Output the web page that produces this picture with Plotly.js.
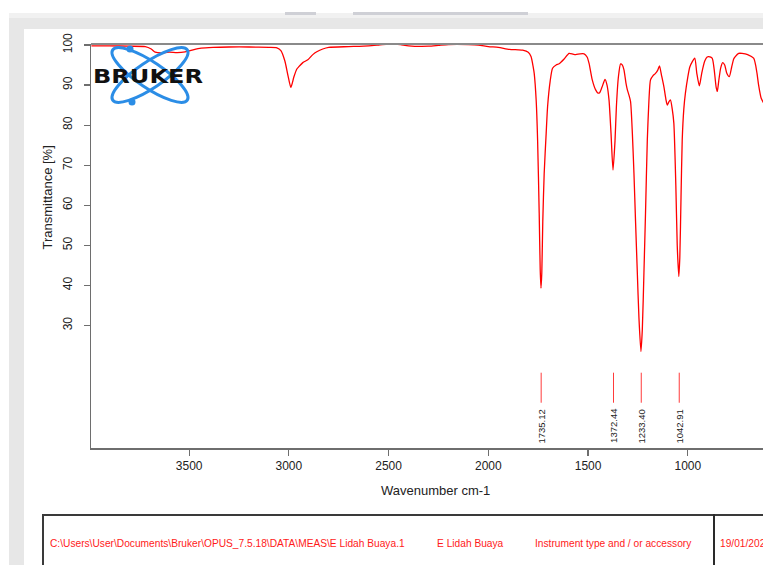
<!DOCTYPE html>
<html>
<head>
<meta charset="utf-8">
<script src="https://cdn.plot.ly/plotly-3.0.1.min.js"></script>
<style>
  html, body { margin:0; padding:0; width:763px; height:565px; overflow:hidden; background:#ffffff; position:relative; font-family:"Liberation Sans", Arial, sans-serif; }
  .abs { position:absolute; }
  #chart { position:absolute; left:0; top:0; width:763px; height:565px; z-index:5; }
  .foot { position:absolute; top:538px; font-size:10.2px; color:#ff1a1a; white-space:nowrap; z-index:6; line-height:12px; }
</style>
</head>
<body>
<!-- page frame -->
<div class="abs" style="left:9px; top:13px; width:754px; height:552px; background:#e7e7e7;"></div>
<div class="abs" style="left:9px; top:13px; width:754px; height:5px; background:#f1f1f1;"></div>
<div class="abs" style="left:285px; top:12px; width:31px; height:3px; background:#cfd0d6;"></div>
<div class="abs" style="left:353px; top:12px; width:175px; height:3px; background:#cfd0d6;"></div>
<div class="abs" style="left:24px; top:29px; width:739px; height:536px; background:#ffffff;"></div>
<!-- footer box -->
<div class="abs" style="left:42px; top:514px; width:721px; height:60px; border-top:2px solid #3a3a3a; border-left:2px solid #3a3a3a; box-sizing:border-box; z-index:6;"></div>
<div class="abs" style="left:713px; top:514px; width:2px; height:60px; background:#2a2a2a; z-index:6;"></div>
<div class="foot" style="left:50px;">C:\Users\User\Documents\Bruker\OPUS_7.5.18\DATA\MEAS\E Lidah Buaya.1</div>
<div class="foot" style="left:437px;">E Lidah Buaya</div>
<div class="foot" style="left:535px;">Instrument type and / or accessory</div>
<div class="foot" style="left:720px;">19/01/2023</div>

<div id="chart"></div>

<!-- Bruker logo -->
<svg class="abs" style="left:0; top:0; z-index:7; pointer-events:none;" width="763" height="565">
  <g fill="none" stroke="#2b8de6" stroke-width="3">
    <ellipse cx="150" cy="75" rx="45" ry="13" transform="rotate(34 150 75)"/>
    <ellipse cx="150" cy="75" rx="45" ry="13" transform="rotate(-34 150 75)"/>
  </g>
  <circle cx="130" cy="49" r="3.5" fill="#2b8de6"/>
  <circle cx="132" cy="102" r="3.5" fill="#2b8de6"/>
  <text x="93" y="83" font-family="DejaVu Sans" font-weight="bold" font-size="19" fill="#111" textLength="110" lengthAdjust="spacingAndGlyphs">BRUKER</text>
</svg>

<script>
// Spectrum (wavenumber cm-1, transmittance %)
const wavenumber = [3990,3900,3800,3720,3690,3670,3640,3600,3560,3520,3480,3440,3380,3300,3200,3100,3060,3040,3020,3005,2990,2975,2960,2950,2930,2905,2880,2860,2830,2800,2700,2600,2550,2480,2440,2400,2300,2250,2200,2100,2050,2000,1950,1895,1850,1828,1800,1786,1775,1770,1760,1753,1745,1740,1736,1732,1727,1720,1710,1703,1690,1678,1660,1645,1620,1595,1575,1562,1540,1520,1505,1495,1480,1462,1450,1442,1430,1415,1405,1395,1385,1375,1365,1358,1348,1337,1328,1320,1310,1303,1295,1287,1278,1270,1262,1253,1245,1235,1228,1220,1212,1203,1195,1187,1175,1162,1150,1142,1132,1120,1110,1103,1095,1087,1078,1070,1060,1053,1045,1040,1034,1028,1020,1012,1000,990,978,965,955,942,930,915,903,895,878,868,858,852,845,835,825,815,805,792,780,770,762,745,728,700,670,660,653,645,632,620];
const transmittance = [99.8,99.8,99.7,99.6,99.0,98.2,98.0,98.2,98.1,98.3,98.8,99.2,99.4,99.5,99.5,99.4,99.3,98.6,96.0,92.5,89.4,92.0,94.0,94.6,95.6,96.3,97.6,98.3,99.0,99.4,99.6,99.8,100.0,100.3,100.1,99.8,99.7,99.9,100.1,100.1,100.0,99.6,99.4,98.9,98.8,98.7,98.2,97.1,94.5,92.9,86.0,76.3,58.0,44.0,39.3,43.0,56.0,68.0,78.0,84.6,91.0,94.2,95.0,95.3,96.5,97.9,97.7,97.6,97.8,97.8,97.0,95.4,91.5,88.8,88.0,88.1,89.5,91.4,90.0,86.3,78.0,68.8,76.0,84.6,92.0,95.3,95.0,93.8,90.5,88.8,87.5,85.9,78.0,68.0,56.0,43.0,32.0,23.5,29.0,43.0,58.0,76.3,86.0,91.3,92.3,92.9,93.8,94.8,92.5,89.6,86.5,85.0,85.8,86.3,84.0,80.5,65.0,50.0,42.2,47.0,62.0,76.3,84.0,88.0,92.0,94.5,95.8,96.7,93.0,89.8,93.0,96.0,97.0,97.1,96.7,94.0,89.5,88.4,91.0,94.3,95.6,95.0,93.0,92.1,94.5,96.5,97.1,97.9,97.9,97.6,96.7,95.0,92.9,90.0,86.7,85.5];

// Peak picks
const peakPositions = [1735.12, 1372.44, 1233.40, 1042.91];
const peakLabels = ["1735.12", "1372.44", "1233.40", "1042.91"];

// Axis ticks
const xTicks = [3500, 3000, 2500, 2000, 1500, 1000];
const yTicks = [30, 40, 50, 60, 70, 80, 90, 100];

const axisColor = '#6e6e6e';
const tickFont = {family: 'Liberation Sans, Arial, sans-serif', size: 12, color: '#222'};

const trace = {
  x: wavenumber, y: transmittance, type: 'scatter', mode: 'lines',
  line: {color: '#ff0000', width: 1.3, shape: 'spline', smoothing: 0.6},
  hoverinfo: 'skip'
};

const shapes = [
  {type: 'line', xref: 'paper', yref: 'paper', x0: 0, x1: 1, y0: 1, y1: 1,
   line: {color: '#8a8a8a', width: 2}}
];
peakPositions.forEach(p => shapes.push({
  type: 'line', xref: 'x', yref: 'y', x0: p, x1: p, y0: 10.7, y1: 18.2,
  line: {color: '#ff3b3b', width: 1}
}));

const annotations = [
  {text: 'Transmittance [%]', xref: 'paper', yref: 'paper', x: -0.064, y: 0.62,
   showarrow: false, textangle: -90, xanchor: 'center', yanchor: 'middle',
   font: {family: 'Liberation Sans, Arial, sans-serif', size: 13, color: '#222'}},
  {text: 'Wavenumber cm-1', xref: 'paper', yref: 'paper', x: 0.513, y: -0.104,
   showarrow: false, xanchor: 'center', yanchor: 'middle',
   font: {family: 'Liberation Sans, Arial, sans-serif', size: 13, color: '#222'}}
];
peakPositions.forEach((p, i) => annotations.push({
  text: peakLabels[i], xref: 'x', yref: 'y', x: p, y: 4.8, showarrow: false,
  textangle: -90, xanchor: 'center', yanchor: 'middle',
  font: {family: 'Liberation Sans, Arial, sans-serif', size: 9.5, color: '#222'}
}));

const layout = {
  width: 763, height: 565,
  margin: {l: 91, r: 0, t: 44, b: 117, pad: 0},
  paper_bgcolor: 'rgba(0,0,0,0)', plot_bgcolor: 'rgba(0,0,0,0)',
  showlegend: false,
  xaxis: {range: [3992, 623], tickvals: xTicks, ticktext: xTicks.map(String),
    showline: true, linecolor: axisColor, linewidth: 1.5, ticks: 'outside', ticklen: 6,
    tickcolor: axisColor, tickwidth: 1.2, tickfont: tickFont, showgrid: false, zeroline: false},
  yaxis: {range: [-0.6, 100.25], tickvals: yTicks, ticktext: yTicks.map(String), tickangle: -90,
    showline: true, linecolor: axisColor, linewidth: 1.5, ticks: 'outside', ticklen: 6,
    tickcolor: axisColor, tickwidth: 1.2, tickfont: tickFont, showgrid: false, zeroline: false,
    ticklabelstandoff: 7},
  shapes: shapes,
  annotations: annotations
};

Plotly.newPlot('chart', [trace], layout, {displayModeBar: false, staticPlot: true});
</script>
</body>
</html>
